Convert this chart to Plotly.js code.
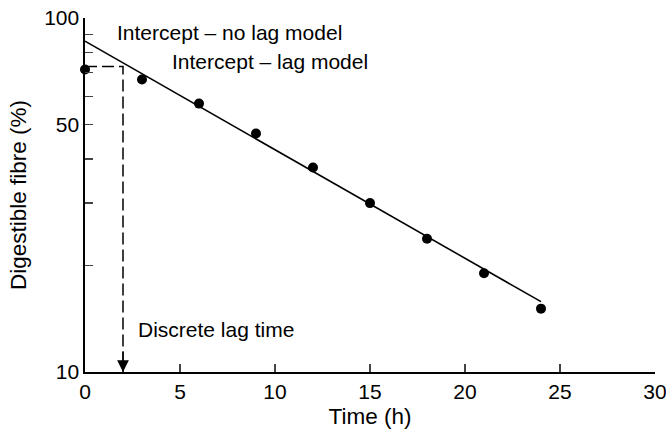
<!DOCTYPE html>
<html>
<head>
<meta charset="utf-8">
<script src="https://cdn.plot.ly/plotly-3.0.1.min.js"></script>
<style>html,body{margin:0;padding:0;background:#fff}#chart{width:666px;height:439px}</style>
</head>
<body>
<div id="chart"></div>
<script>
// Data
const timeH = [0, 3, 6, 9, 12, 15, 18, 21, 24];
const digestible = [71.5, 67.0, 57.3, 47.2, 37.8, 30.0, 23.8, 19.0, 15.1];
const fitX = [0, 24];
const fitY = [86.0, 15.8];
const lagX = [0, 2, 2];
const lagY = [72.9, 72.9, 10];
const lagTime = 2;
const yTickVals = [10, 20, 30, 40, 50, 60, 70, 80, 90, 100];
const yTickText = ['10', '', '', '', '50', '', '', '', '', '100'];
const xTickVals = [0, 5, 10, 15, 20, 25, 30];
const labels = {
  noLag: 'Intercept – no lag model',
  lag: 'Intercept – lag model',
  discrete: 'Discrete lag time',
  xTitle: 'Time (h)',
  yTitle: 'Digestible fibre (%)'
};

const fam = 'Liberation Sans, Arial, sans-serif';
const font = {family: fam, size: 21, color: '#000'};
const titleFont = {family: fam, size: 22.5, color: '#000'};

const traces = [
  {x: lagX, y: lagY, mode: 'lines', line: {color: '#000', width: 1.5, dash: '12px,5px'}, hoverinfo: 'skip'},
  {x: fitX, y: fitY, mode: 'lines', line: {color: '#000', width: 1.6}, hoverinfo: 'skip'},
  {x: timeH, y: digestible, mode: 'markers', marker: {color: '#000', size: 10}, cliponaxis: false}
];

const layout = {
  width: 666, height: 439,
  margin: {l: 85, r: 11, t: 18, b: 67},
  paper_bgcolor: '#fff', plot_bgcolor: '#fff',
  showlegend: false,
  font: font,
  xaxis: {
    range: [0, 30], tickvals: xTickVals, ticks: 'inside', ticklen: 8, tickwidth: 1.3,
    ticklabeloverflow: 'allow',
    showgrid: false, zeroline: false, showline: true, linecolor: '#000', linewidth: 1.6,
    tickfont: font, title: {text: labels.xTitle, font: titleFont, standoff: 6}
  },
  yaxis: {
    type: 'log', range: [1, 2], tickvals: yTickVals, ticktext: yTickText,
    ticks: 'inside', ticklen: 8, tickwidth: 1.3, ticklabeloverflow: 'allow',
    showgrid: false, zeroline: false, showline: true, linecolor: '#000', linewidth: 1.6,
    tickfont: font, title: {text: labels.yTitle, font: titleFont, standoff: 11}
  },
  annotations: [
    {x: 1.58, y: Math.log10(91), xref: 'x', yref: 'y', text: labels.noLag, showarrow: false, xanchor: 'left', yanchor: 'middle', font: font},
    {x: 4.47, y: Math.log10(75.3), xref: 'x', yref: 'y', text: labels.lag, showarrow: false, xanchor: 'left', yanchor: 'middle', font: font},
    {x: 2.7, y: Math.log10(13.2), xref: 'x', yref: 'y', text: labels.discrete, showarrow: false, xanchor: 'left', yanchor: 'middle', font: font},
    {x: lagTime, y: 1, xref: 'x', yref: 'y', text: '', showarrow: true, ax: 0, ay: -22, arrowhead: 2, arrowsize: 1.8, arrowwidth: 1.3, arrowcolor: '#000', standoff: 0}
  ]
};

Plotly.newPlot('chart', traces, layout, {displayModeBar: false, staticPlot: true});
</script>
</body>
</html>
